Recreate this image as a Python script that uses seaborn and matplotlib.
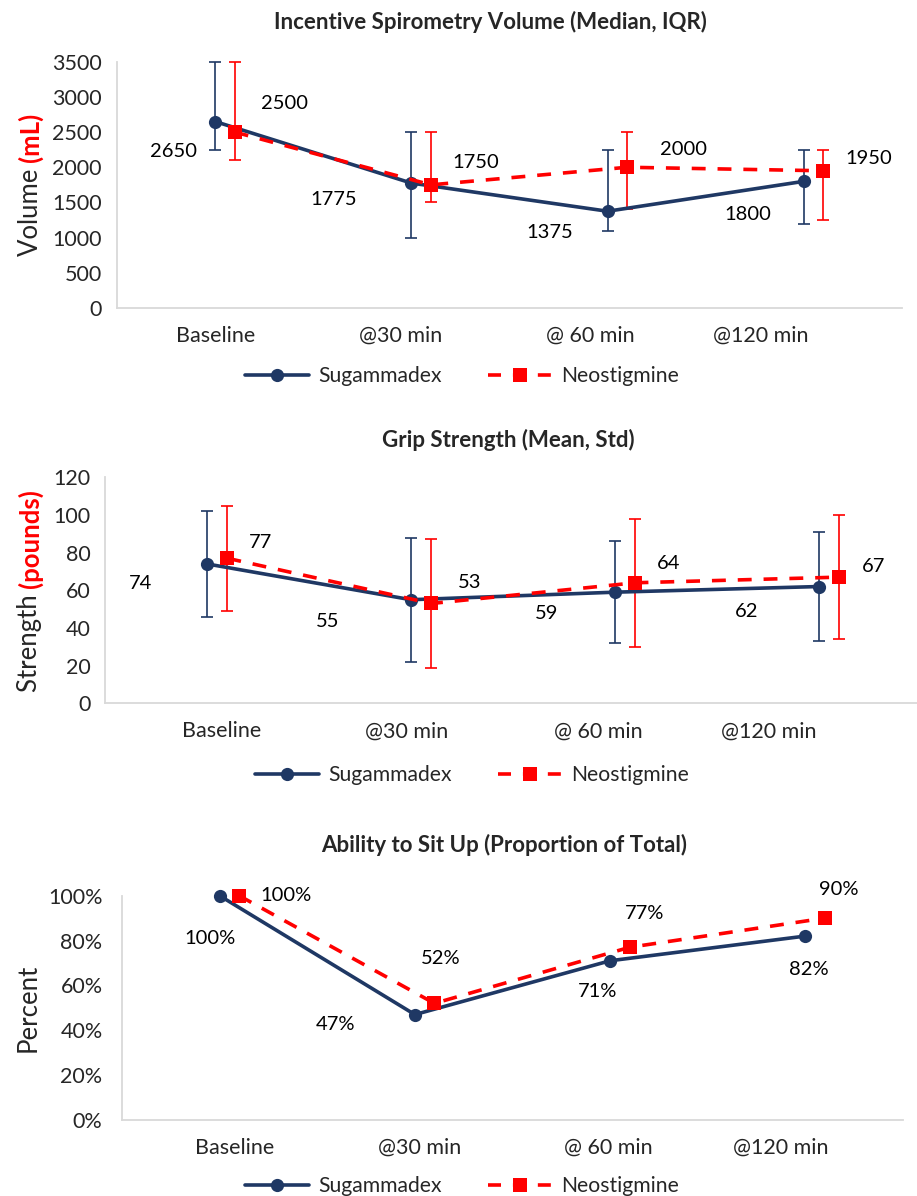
"""
Sugammadex vs Neostigmine recovery outcomes: three stacked line charts.
"""

import matplotlib
matplotlib.use('Agg')
import matplotlib.pyplot as plt
import numpy as np
import pandas as pd
import seaborn as sns
from matplotlib.lines import Line2D
from matplotlib.ticker import PercentFormatter

sns.set_theme(style='white')
plt.rcParams['font.family'] = ['Lato', 'DejaVu Sans']

NAVY = '#1f3864'
RED = '#ff0000'
AXIS_GREY = '#d9d9d9'

timepoints = ['Baseline', '@30 min', '@ 60 min', '@120 min']
groups = ['Sugammadex', 'Neostigmine']

# Incentive spirometry volume (median, IQR)
spiro_sug = [2650, 1775, 1375, 1800]
spiro_sug_q1 = [2250, 1000, 1100, 1200]
spiro_sug_q3 = [3500, 2500, 2250, 2250]
spiro_neo = [2500, 1750, 2000, 1950]
spiro_neo_q1 = [2100, 1500, 1400, 1250]
spiro_neo_q3 = [3500, 2500, 2500, 2250]

# Grip strength (mean, std)
grip_sug = [74, 55, 59, 62]
grip_sug_sd = [28, 33, 27, 29]
grip_neo = [77, 53, 64, 67]
grip_neo_sd = [28, 34, 34, 33]

# Ability to sit up (proportion of total)
sit_sug = [1.00, 0.47, 0.71, 0.82]
sit_neo = [1.00, 0.52, 0.77, 0.90]

TICK_FONT = 15.5
LABEL_FONT = 14.5
LEGEND_FONT = 15.2
YLABEL_FONT = 18.5
TITLE_FONT = 16
LINE_W = 2.6
W, H = 917, 1196


def to_long(sug, neo, sug_x, neo_x):
    return pd.DataFrame({
        'x': list(sug_x) + list(neo_x),
        'value': list(sug) + list(neo),
        'group': ['Sugammadex'] * len(sug) + ['Neostigmine'] * len(neo),
    })


def draw_panel(fig, rect, sug, neo, sug_err, neo_err, ylim, yticks,
               tick_pos, sug_off, neo_off, fmt, ypad):
    ax = fig.add_axes(rect)
    sug_x = np.arange(1, len(timepoints) + 1)
    neo_x = sug_x + 0.1

    if sug_err is not None:
        ax.errorbar(sug_x, sug, yerr=sug_err, fmt='none', ecolor=NAVY,
                    elinewidth=1.2, capsize=4, capthick=1.2, zorder=1)
        ax.errorbar(neo_x, neo, yerr=neo_err, fmt='none', ecolor=RED,
                    elinewidth=1.2, capsize=4, capthick=1.2, zorder=1)

    df = to_long(sug, neo, sug_x, neo_x)
    sns.lineplot(data=df, x='x', y='value', hue='group', style='group',
                 hue_order=groups, style_order=groups,
                 palette={'Sugammadex': NAVY, 'Neostigmine': RED},
                 markers={'Sugammadex': 'o', 'Neostigmine': 's'},
                 dashes={'Sugammadex': '', 'Neostigmine': (3.85, 3.3)},
                 markersize=9.5, markeredgewidth=0, linewidth=LINE_W,
                 errorbar=None, legend=False, ax=ax, zorder=3)

    # markers and caps sitting on the axis limits should not be cut off
    for artist in ax.lines + ax.collections:
        artist.set_clip_on(False)

    for x, v, off in zip(sug_x, sug, sug_off):
        ax.annotate(fmt(v), (x, v), xytext=off, textcoords='offset pixels',
                    ha='center', va='center', fontsize=LABEL_FONT,
                    color='black')
    for x, v, off in zip(neo_x, neo, neo_off):
        ax.annotate(fmt(v), (x, v), xytext=off, textcoords='offset pixels',
                    ha='center', va='center', fontsize=LABEL_FONT,
                    color='black')

    ax.set_xlim(0.5, 4.5)
    ax.set_ylim(*ylim)
    ax.set_yticks(yticks)
    ax.set_xticks(tick_pos)
    ax.set_xticklabels(timepoints)
    ax.set_xlabel('')
    ax.set_ylabel('')
    ax.tick_params(axis='x', length=0, pad=13, labelsize=TICK_FONT)
    ax.tick_params(axis='y', length=0, pad=ypad, labelsize=TICK_FONT)
    for side in ['top', 'right']:
        ax.spines[side].set_visible(False)
    for side in ['left', 'bottom']:
        ax.spines[side].set_color(AXIS_GREY)
        ax.spines[side].set_linewidth(1.3)
    ax.patch.set_alpha(0)
    return ax


def add_legend(fig, y_px, x_px):
    handles = [
        Line2D([], [], color=NAVY, lw=LINE_W, marker='o', markersize=9.5,
               markeredgewidth=0),
        Line2D([], [], color=RED, lw=LINE_W, marker='s', markersize=9.5,
               markeredgewidth=0, dashes=(3.6, 3.3)),
    ]
    fig.legend(handles, groups, loc='center', ncol=2, frameon=False,
               bbox_to_anchor=(x_px / W, 1 - y_px / H),
               fontsize=LEGEND_FONT, handlelength=3.0, columnspacing=2.2,
               handletextpad=0.45)


def add_title(fig, text, x_px, y_px):
    fig.text(x_px / W, 1 - y_px / H, text, ha='center', va='center',
             fontsize=TITLE_FONT, fontweight='bold')


def two_tone_ylabel(fig, ax, plain, bold, x_px):
    """Rotated y label with a black part and a bold red part."""
    renderer = fig.canvas.get_renderer()
    t1 = fig.text(0, 0, plain, rotation=90, ha='center', va='bottom',
                  fontsize=YLABEL_FONT)
    t2 = fig.text(0, 0, bold, rotation=90, ha='center', va='bottom',
                  fontsize=YLABEL_FONT, fontweight='bold', color=RED)
    h1 = t1.get_window_extent(renderer).height
    h2 = t2.get_window_extent(renderer).height
    bbox = ax.get_position()
    yc = (bbox.y0 + bbox.y1) / 2 * H
    y0 = yc - (h1 + h2) / 2
    t1.set_position((x_px / W, y0 / H))
    t2.set_position((x_px / W, (y0 + h1) / H))


def main():
    fig = plt.figure(figsize=(W / 100, H / 100), dpi=100)

    # Panel 1: spirometry
    spiro_sug_err = [np.subtract(spiro_sug, spiro_sug_q1),
                     np.subtract(spiro_sug_q3, spiro_sug)]
    spiro_neo_err = [np.subtract(spiro_neo, spiro_neo_q1),
                     np.subtract(spiro_neo_q3, spiro_neo)]
    ax1 = draw_panel(
        fig, [117 / W, 1 - 308 / H, 785 / W, 246.3 / H],
        spiro_sug, spiro_neo, spiro_sug_err, spiro_neo_err,
        (0, 3500), range(0, 3501, 500), [1.0, 1.946, 2.912, 3.781],
        [(-42, -30), (-78, -16), (-58, -21), (-56, -33)],
        [(50, 29), (45, 22), (56, 18), (45, 12)],
        lambda v: f'{v:.0f}', 11)
    add_title(fig, 'Incentive Spirometry Volume (Median, IQR)', 490, 22)
    add_legend(fig, 376, 462)

    # Panel 2: grip strength
    ax2 = draw_panel(
        fig, [105 / W, 1 - 703.3 / H, 816 / W, 226 / H],
        grip_sug, grip_neo, grip_sug_sd, grip_neo_sd,
        (0, 120), range(0, 121, 20), [1.074, 1.98, 2.917, 3.755],
        [(-66, -20), (-83, -22), (-68, -21), (-72, -25)],
        [(33, 16), (38, 21), (33, 19), (34, 11)],
        lambda v: f'{v:.0f}', 10.5)
    add_title(fig, 'Grip Strength (Mean, Std)', 508, 440)
    add_legend(fig, 775, 472)

    # Panel 3: ability to sit up
    ax3 = draw_panel(
        fig, [122 / W, 1 - 1120 / H, 781 / W, 224.3 / H],
        sit_sug, sit_neo, None, None,
        (0, 1.0), np.arange(0, 1.01, 0.2), [1.077, 2.022, 2.993, 3.872],
        [(-10, -43), (-79, -10), (-13, -31), (3, -33)],
        [(47, 0), (6, 45), (15, 34), (14, 29)],
        lambda v: f'{v * 100:.0f}%', 14)
    ax3.yaxis.set_major_formatter(PercentFormatter(1.0, decimals=0))
    add_title(fig, 'Ability to Sit Up (Proportion of Total)', 504, 845)
    add_legend(fig, 1186, 462)

    two_tone_ylabel(fig, ax1, 'Volume ', '(mL)', 30)
    two_tone_ylabel(fig, ax2, 'Strength ', '(pounds)', 30)
    fig.text(28 / W, 1 - 1008 / H, 'Percent', rotation=90, ha='center',
             va='center', fontsize=YLABEL_FONT)

    fig.savefig('out.png', dpi=100, facecolor='white')


if __name__ == '__main__':
    main()
